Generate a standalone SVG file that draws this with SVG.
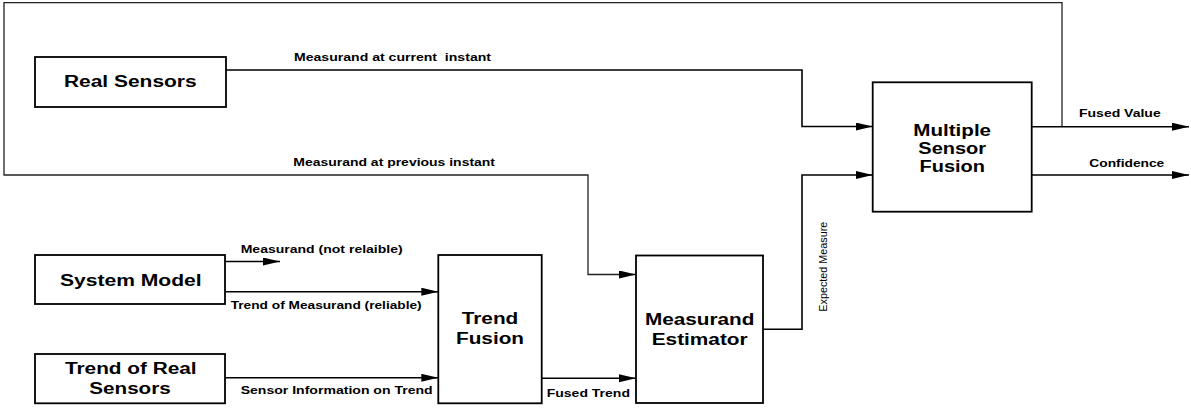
<svg xmlns="http://www.w3.org/2000/svg" width="1191" height="413" viewBox="0 0 1191 413">
  <style>
    .box { fill: #fff; stroke: #000; stroke-width: 1.8; }
    .wire { fill: none; stroke: #000; stroke-width: 1.6; }
    .loop { fill: none; stroke: #222; stroke-width: 1.3; }
    .title { font-family: "Liberation Sans", Arial, sans-serif; font-weight: bold; font-size: 16px; fill: #000; text-anchor: middle; }
    .lbl { font-family: "Liberation Sans", Arial, sans-serif; font-weight: bold; font-size: 11px; fill: #000; }
    .thin { font-family: "Liberation Sans", Arial, sans-serif; font-size: 10px; fill: #000; text-anchor: middle; }
  </style>
  <defs>
    <marker id="arrow" markerUnits="userSpaceOnUse" markerWidth="18" markerHeight="10" refX="17" refY="4" orient="auto">
      <path d="M0,0 L17,4 L0,8 z" fill="#000"/>
    </marker>
  </defs>
  <rect width="1191" height="413" fill="#fff"/>

  <!-- connectors -->
  <g id="connectors">
    <!-- feedback of fused value to the estimator -->
    <path class="loop" d="M1062,126.7 V2.7 H4 V175 H588 V274.5 H636" marker-end="url(#arrow)"/>
    <path class="wire" d="M226,70 H802 V126.5 H872.7" marker-end="url(#arrow)"/>
    <path class="wire" d="M763,329.3 H802 V175 H872.7" marker-end="url(#arrow)"/>
    <path class="wire" d="M1031.7,126.7 H1189" marker-end="url(#arrow)"/>
    <path class="wire" d="M1031.7,175 H1189" marker-end="url(#arrow)"/>
    <path class="wire" d="M225,261.5 H280" marker-end="url(#arrow)"/>
    <path class="wire" d="M225,291.7 H438.3" marker-end="url(#arrow)"/>
    <path class="wire" d="M225,377.8 H438.3" marker-end="url(#arrow)"/>
    <path class="wire" d="M541.7,378.3 H636" marker-end="url(#arrow)"/>

    <text class="lbl" x="294" y="61" textLength="197" lengthAdjust="spacingAndGlyphs" xml:space="preserve">Measurand at current  instant</text>
    <text class="lbl" x="293.3" y="166" textLength="201.7" lengthAdjust="spacingAndGlyphs">Measurand at previous instant</text>
    <text class="lbl" x="240.7" y="253" textLength="162" lengthAdjust="spacingAndGlyphs">Measurand (not relaible)</text>
    <text class="lbl" x="230.7" y="309" textLength="191" lengthAdjust="spacingAndGlyphs">Trend of Measurand (reliable)</text>
    <text class="lbl" x="240.7" y="394" textLength="192" lengthAdjust="spacingAndGlyphs">Sensor Information on Trend</text>
    <text class="lbl" x="546.7" y="397" textLength="83.3" lengthAdjust="spacingAndGlyphs">Fused Trend</text>
    <text class="lbl" x="1079" y="117" textLength="81.7" lengthAdjust="spacingAndGlyphs">Fused Value</text>
    <text class="lbl" x="1089.3" y="167" textLength="75" lengthAdjust="spacingAndGlyphs">Confidence</text>
    <text class="thin" transform="translate(827,266.7) rotate(-90)" textLength="90" lengthAdjust="spacingAndGlyphs">Expected Measure</text>
  </g>

  <g id="real-sensors">
    <rect class="box" x="35" y="57" width="191" height="50"/>
    <text class="title" x="130.3" y="87" textLength="132.7" lengthAdjust="spacingAndGlyphs">Real Sensors</text>
  </g>

  <g id="system-model">
    <rect class="box" x="35" y="255" width="190" height="49"/>
    <text class="title" x="130.8" y="286" textLength="141.7" lengthAdjust="spacingAndGlyphs">System Model</text>
  </g>

  <g id="trend-real-sensors">
    <rect class="box" x="35" y="354" width="190" height="49.3"/>
    <text class="title" x="130.8" y="374" textLength="131.7" lengthAdjust="spacingAndGlyphs">Trend of Real</text>
    <text class="title" x="130" y="394" textLength="81.4" lengthAdjust="spacingAndGlyphs">Sensors</text>
  </g>

  <g id="trend-fusion">
    <rect class="box" x="438.3" y="255" width="103.4" height="148.3"/>
    <text class="title" x="490" y="324" textLength="56.6" lengthAdjust="spacingAndGlyphs">Trend</text>
    <text class="title" x="490" y="344" textLength="68" lengthAdjust="spacingAndGlyphs">Fusion</text>
  </g>

  <g id="measurand-estimator">
    <rect class="box" x="636" y="255.5" width="127" height="147.5"/>
    <text class="title" x="699.7" y="325" textLength="109.3" lengthAdjust="spacingAndGlyphs">Measurand</text>
    <text class="title" x="699.7" y="344.5" textLength="96" lengthAdjust="spacingAndGlyphs">Estimator</text>
  </g>

  <g id="multiple-sensor-fusion">
    <rect class="box" x="872.7" y="82.3" width="159" height="129.4"/>
    <text class="title" x="952.2" y="136" textLength="77.7" lengthAdjust="spacingAndGlyphs">Multiple</text>
    <text class="title" x="952.2" y="153.5" textLength="67.7" lengthAdjust="spacingAndGlyphs">Sensor</text>
    <text class="title" x="952.2" y="172" textLength="65.4" lengthAdjust="spacingAndGlyphs">Fusion</text>
  </g>
</svg>
